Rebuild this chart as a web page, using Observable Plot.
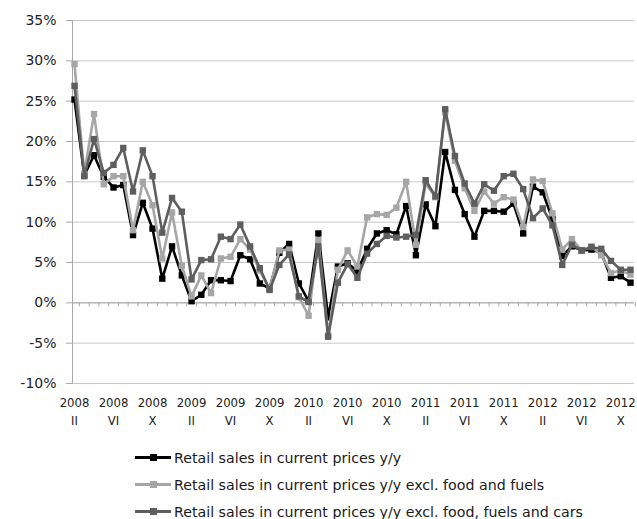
<!DOCTYPE html>
<html><head><meta charset="utf-8">
<script src="https://cdn.jsdelivr.net/npm/d3@7"></script>
<script src="https://cdn.jsdelivr.net/npm/@observablehq/plot@0.6"></script>
<style>
body{margin:0;background:#fff;font-family:"DejaVu Sans",sans-serif;}
#wrap{position:relative;width:637px;height:519px;overflow:hidden;}
#legend{position:absolute;left:135px;top:444px;font-size:14.2px;color:#1a1a1a;white-space:nowrap;}
.row{display:flex;align-items:center;height:27px;}
.sym{position:relative;width:36px;height:27px;margin-right:3px;flex:none;}
.sym .ln{position:absolute;left:0;right:0;top:12px;height:3px;}
.sym .mk{position:absolute;left:15px;top:10px;width:7px;height:7px;}
</style></head><body>
<div id="wrap"><div id="chart"></div><div id="legend"></div></div>
<script>
const months = [
 "2008 II","2008 III","2008 IV","2008 V","2008 VI","2008 VII","2008 VIII","2008 IX","2008 X","2008 XI","2008 XII",
 "2009 I","2009 II","2009 III","2009 IV","2009 V","2009 VI","2009 VII","2009 VIII","2009 IX","2009 X","2009 XI","2009 XII",
 "2010 I","2010 II","2010 III","2010 IV","2010 V","2010 VI","2010 VII","2010 VIII","2010 IX","2010 X","2010 XI","2010 XII",
 "2011 I","2011 II","2011 III","2011 IV","2011 V","2011 VI","2011 VII","2011 VIII","2011 IX","2011 X","2011 XI","2011 XII",
 "2012 I","2012 II","2012 III","2012 IV","2012 V","2012 VI","2012 VII","2012 VIII","2012 IX","2012 X","2012 XI"
];
const labelMonths = ["2008 II","2008 VI","2008 X","2009 II","2009 VI","2009 X","2010 II","2010 VI","2010 X","2011 II","2011 VI","2011 X","2012 II","2012 VI","2012 X"];
const yTicks = [-10,-5,0,5,10,15,20,25,30,35];

const total = [25.2,15.8,18.3,15.6,14.3,14.6,8.4,12.4,9.2,3.0,7.0,3.4,0.2,1.0,2.8,2.8,2.7,5.9,5.4,2.4,1.8,6.2,7.3,2.4,0.2,8.6,-1.8,4.5,4.9,3.9,6.7,8.6,9.0,8.5,12.0,5.9,12.2,9.5,18.7,14.0,11.0,8.2,11.4,11.4,11.3,12.3,8.6,14.4,13.7,10.4,5.8,7.0,6.5,6.6,6.2,3.1,3.3,2.5];
const exFoodFuels = [29.6,16.0,23.4,14.7,15.7,15.7,9.0,15.0,12.1,5.5,11.2,4.6,0.8,3.4,1.2,5.5,5.7,7.9,6.6,4.0,1.7,6.5,6.6,0.7,-1.6,7.8,-4.0,4.1,6.5,4.5,10.6,11.0,10.9,11.8,15.0,7.2,14.8,13.1,23.6,17.6,14.2,11.4,13.8,12.3,13.1,12.8,9.4,15.3,15.1,11.1,6.6,7.9,6.5,7.0,5.9,3.7,4.0,3.5];
const exFoodFuelsCars = [26.9,15.7,20.3,16.1,17.1,19.2,13.8,18.9,15.7,8.7,13.0,11.3,2.9,5.3,5.4,8.2,7.9,9.7,7.0,4.3,1.6,4.7,6.0,0.8,0.1,7.0,-4.2,2.5,4.8,3.1,6.1,7.3,8.3,8.1,8.2,8.4,15.2,13.2,24.0,18.2,14.8,12.3,14.7,13.9,15.7,16.0,14.1,10.5,11.7,9.6,4.7,7.2,6.5,6.9,6.7,5.2,4.1,4.1];

const seriesNames = [
 "Retail sales in current prices y/y",
 "Retail sales in current prices y/y excl. food and fuels",
 "Retail sales in current prices y/y excl. food, fuels and cars"
];
const seriesColors = ["#000000","#a6a6a6","#5e5e5e"];
const seriesValues = [total, exFoodFuels, exFoodFuelsCars];

const seriesMarks = seriesValues.flatMap((vals, s) => {
  const data = vals.map((v, i) => ({month: months[i], value: v}));
  return [
    Plot.line(data, {x: "month", y: "value", stroke: seriesColors[s], strokeWidth: 2.6, strokeLinejoin: "round"}),
    Plot.dot(data, {x: "month", y: "value", symbol: "square", r: 3.6, fill: seriesColors[s], stroke: "none"})
  ];
});

const chart = Plot.plot({
  width: 637, height: 440,
  marginLeft: 72, marginRight: 3, marginTop: 20, marginBottom: 57,
  style: {fontFamily: '"DejaVu Sans",sans-serif', color: "#222", background: "#fff"},
  x: {type: "point", domain: months, range: [74, 630], padding: 0, label: null},
  y: {domain: [-10, 35], label: null},
  marks: [
    Plot.gridY(yTicks, {stroke: "#c8c8c8", strokeOpacity: 1}),
    Plot.ruleY([0], {stroke: "#a8a8a8"}),
    Plot.ruleX(months, {x: d => d, y1: 0, y2: -0.5, dx: 4.9, stroke: "#a8a8a8"}),
    Plot.frame({anchor: "left", stroke: "#a8a8a8"}),
    Plot.axisY({ticks: yTicks, tickFormat: d => d + "%", tickSize: 6, tickPadding: 10, fontSize: 14, stroke: "#a8a8a8", label: null}),
    Plot.axisX({ticks: labelMonths, tickFormat: d => d.replace(" ", "\n"), tickSize: 0, tickPadding: 10, fontSize: 13, lineHeight: 1.42, label: null, fontFamily: '"DejaVu Sans Condensed","DejaVu Sans",sans-serif'}),
    ...seriesMarks
  ]
});
document.getElementById("chart").appendChild(chart);

const legend = document.getElementById("legend");
seriesNames.forEach((name, s) => {
  const row = document.createElement("div");
  row.className = "row";
  row.innerHTML = `<div class="sym"><div class="ln" style="background:${seriesColors[s]}"></div><div class="mk" style="background:${seriesColors[s]}"></div></div><span>${name}</span>`;
  legend.appendChild(row);
});
</script>
</body></html>
